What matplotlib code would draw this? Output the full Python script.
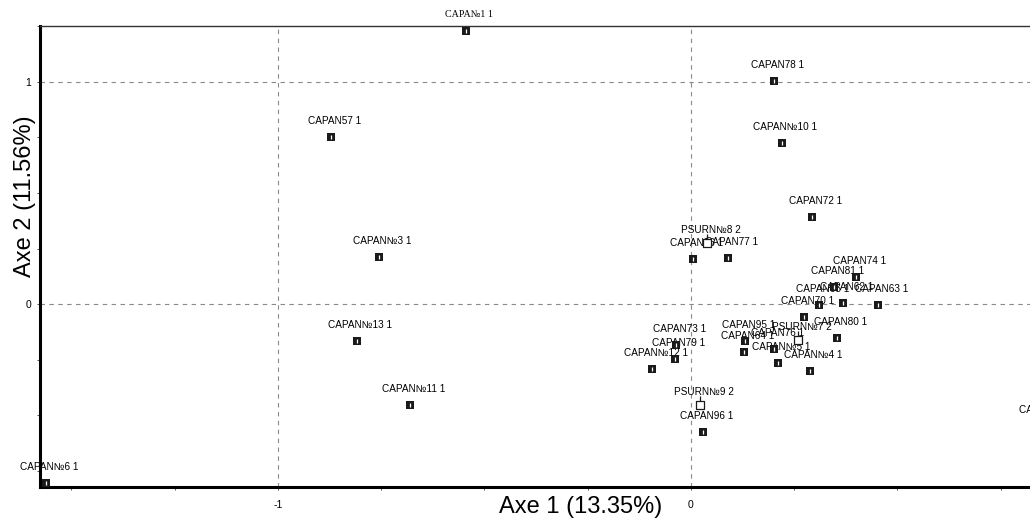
import matplotlib.pyplot as plt
from matplotlib.path import Path
from matplotlib.ticker import MultipleLocator

# Factorial analysis: individuals on the first two axes
names = ["CAPA№1 1", "CAPAN78 1", "CAPAN57 1", "CAPAN№10 1", "CAPAN72 1",
         "CAPAN№3 1", "PSURN№8 2", "CAPAN86 1", "CAPAN77 1", "CAPAN74 1",
         "CAPAN81 1", "CAPAN62 1", "CAPAN65 1", "CAPAN63 1", "CAPAN70 1",
         "CAPAN80 1", "CAPAN73 1", "CAPAN79 1", "CAPAN№12 1", "CAPAN95 1",
         "CAPAN64 1", "PSURN№7 2", "CAPAN76 1", "CAPAN№5 1", "CAPAN№4 1",
         "CAPAN№13 1", "CAPAN№11 1", "CAPAN№6 1", "PSURN№9 2", "CAPAN96 1",
         "CAPAN71 1"]
axe1 = [-0.545, 0.201, -0.872, 0.220, 0.293,
        -0.755, 0.039, 0.005, 0.090, 0.400,
        0.346, 0.368, 0.310, 0.453, 0.274,
        0.354, -0.036, -0.039, -0.094, 0.131,
        0.128, 0.259, 0.201, 0.211, 0.288,
        -0.809, -0.680, -1.562, 0.022, 0.029,
        0.850]
axe2 = [1.230, 1.005, 0.752, 0.725, 0.392,
        0.212, 0.261, 0.203, 0.207, 0.122,
        0.077, 0.005, -0.005, -0.005, -0.059,
        -0.153, -0.185, -0.248, -0.293, -0.167,
        -0.216, -0.176, -0.203, -0.266, -0.302,
        -0.167, -0.455, -0.806, -0.468, -0.577,
        -0.550]
group = [1, 1, 1, 1, 1, 1, 2, 1, 1, 1,
         1, 1, 1, 1, 1, 1, 1, 1, 1, 1,
         1, 2, 1, 1, 1, 1, 1, 1, 2, 1,
         1]
inertia = [13.35, 11.56]

# open square with a small stem on top, for group 2
stem_square = Path([(-1, -1), (1, -1), (1, 1), (-1, 1), (-1, -1), (0, 1), (0, 2.2)],
                   [Path.MOVETO, Path.LINETO, Path.LINETO, Path.LINETO,
                    Path.CLOSEPOLY, Path.MOVETO, Path.LINETO])

plt.rcParams['font.family'] = ['Liberation Sans', 'DejaVu Sans']

fig = plt.figure(figsize=(10.30, 5.23), dpi=100)
ax = fig.add_axes([0.0388, 0.0688, 1.0447, 0.8815])
ax.set_xlim(-1.576, 1.029)
ax.set_ylim(-0.824, 1.252)

for v in (-1, 0):
    ax.axvline(v, color="#8a8a8a", lw=0.8, ls=(0, (4, 4)), zorder=1)
for v in (0, 1):
    ax.axhline(v, color="#8a8a8a", lw=0.8, ls=(0, (4, 4)), zorder=1)

for name, x, y, g in zip(names, axe1, axe2, group):
    if g == 1:
        ax.plot(x, y, "s", ms=6.3, color="#1a1a1a", mew=0, zorder=4, clip_on=False)
        ax.plot(x, y, "|", ms=3.2, color="white", mew=0.9, zorder=5, clip_on=False)
    else:
        ax.plot(x, y + 0.012, marker=stem_square, ms=13, mfc="white", mec="#1a1a1a",
                mew=0.9, ls="none", zorder=4, clip_on=False)
    fam = ['Liberation Serif'] if name == "CAPA№1 1" else ['Liberation Sans', 'DejaVu Sans']
    ax.annotate(name, (x, y), xytext=(2.5, 11.5), textcoords="offset points",
                ha="center", va="center", fontsize=7.2, family=fam, zorder=3,
                annotation_clip=False)

ax.set_xticks([-1, 0])
ax.xaxis.set_minor_locator(MultipleLocator(0.25))
ax.set_yticks([0, 1])
ax.yaxis.set_minor_locator(MultipleLocator(0.25))
ax.tick_params(which="both", direction="out", length=2.5, width=0.7, color="#555555")
ax.tick_params(axis="x", labelsize=7.5, pad=7)
ax.tick_params(axis="y", labelsize=7.5, pad=4)
ax.set_xticklabels(["-1", "0"])
ax.set_yticklabels(["0", "1"])

ax.spines["left"].set_linewidth(2.2)
ax.spines["bottom"].set_linewidth(2.2)
ax.spines["top"].set_linewidth(1.0)
ax.spines["top"].set_color("#333333")

ax.set_xlabel("Axe 1 (%.2f%%)" % inertia[0], fontsize=17)
ax.set_ylabel("Axe 2 (%.2f%%)" % inertia[1], fontsize=17)
ax.xaxis.set_label_coords(0.502, -0.02)
ax.yaxis.set_label_coords(-0.004, 0.63)

fig.savefig("out.png", dpi=100)
